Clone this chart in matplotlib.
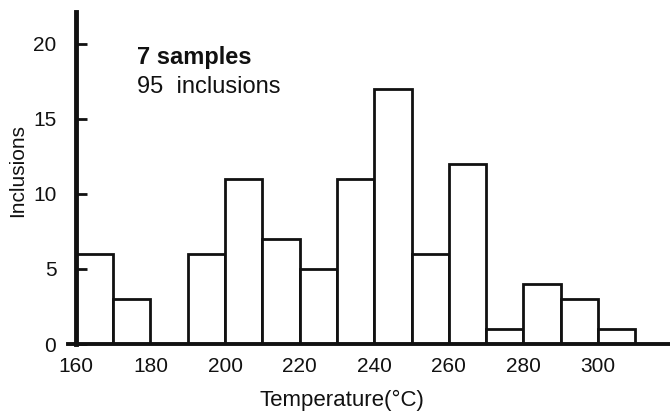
import matplotlib
matplotlib.use('Agg')
import matplotlib.pyplot as plt

# --- Data ---
BIN_EDGES = [160, 170, 180, 190, 200, 210, 220, 230, 240, 250, 260, 270, 280, 290, 300, 310]
COUNTS = [6, 3, 0, 6, 11, 7, 5, 11, 17, 6, 12, 1, 4, 3, 1]
X_TICKS = [160, 180, 200, 220, 240, 260, 280, 300]
Y_TICKS = [0, 5, 10, 15, 20]

plt.rcParams['font.family'] = ['Liberation Sans', 'DejaVu Sans']
INK = '#111111'

fig = plt.figure(figsize=(6.7, 4.15), dpi=100)
ax = fig.add_axes([0.102, 0.171, 0.898, 0.80])

lefts = BIN_EDGES[:-1]
widths = [b - a for a, b in zip(BIN_EDGES[:-1], BIN_EDGES[1:])]
ax.bar(lefts, COUNTS, width=widths, align='edge', facecolor='white',
       edgecolor=INK, linewidth=2.0)

ax.set_xlim(158, 319.3)
ax.set_ylim(0, 22.1)

ax.spines['top'].set_visible(False)
ax.spines['right'].set_visible(False)
ax.spines['left'].set_position(('data', 160))
ax.spines['left'].set_linewidth(3.5)
ax.spines['bottom'].set_linewidth(2.8)
ax.spines['left'].set_color(INK)
ax.spines['bottom'].set_color(INK)

ax.set_xticks(X_TICKS)
ax.set_xticklabels([str(t) for t in X_TICKS], fontsize=15, color=INK)
ax.tick_params(axis='x', length=0, pad=9)
ax.set_yticks(Y_TICKS)
ax.set_yticklabels([str(t) for t in Y_TICKS], fontsize=15, color=INK)
ax.tick_params(axis='y', direction='in', length=8, width=2, pad=14, color=INK)

fig.text(0.51, 0.035, 'Temperature(°C)', ha='center', va='center',
         fontsize=16, color=INK)
fig.text(0.027, 0.59, 'Inclusions', rotation=90, ha='center', va='center',
         fontsize=15, color=INK)

ax.text(0.114, 0.864, '7 samples', transform=ax.transAxes, fontsize=17,
        fontweight='bold', color=INK, va='center')
ax.text(0.114, 0.774, '95  inclusions', transform=ax.transAxes, fontsize=17,
        color=INK, va='center')

fig.savefig('out.png', dpi=100, facecolor='white')
